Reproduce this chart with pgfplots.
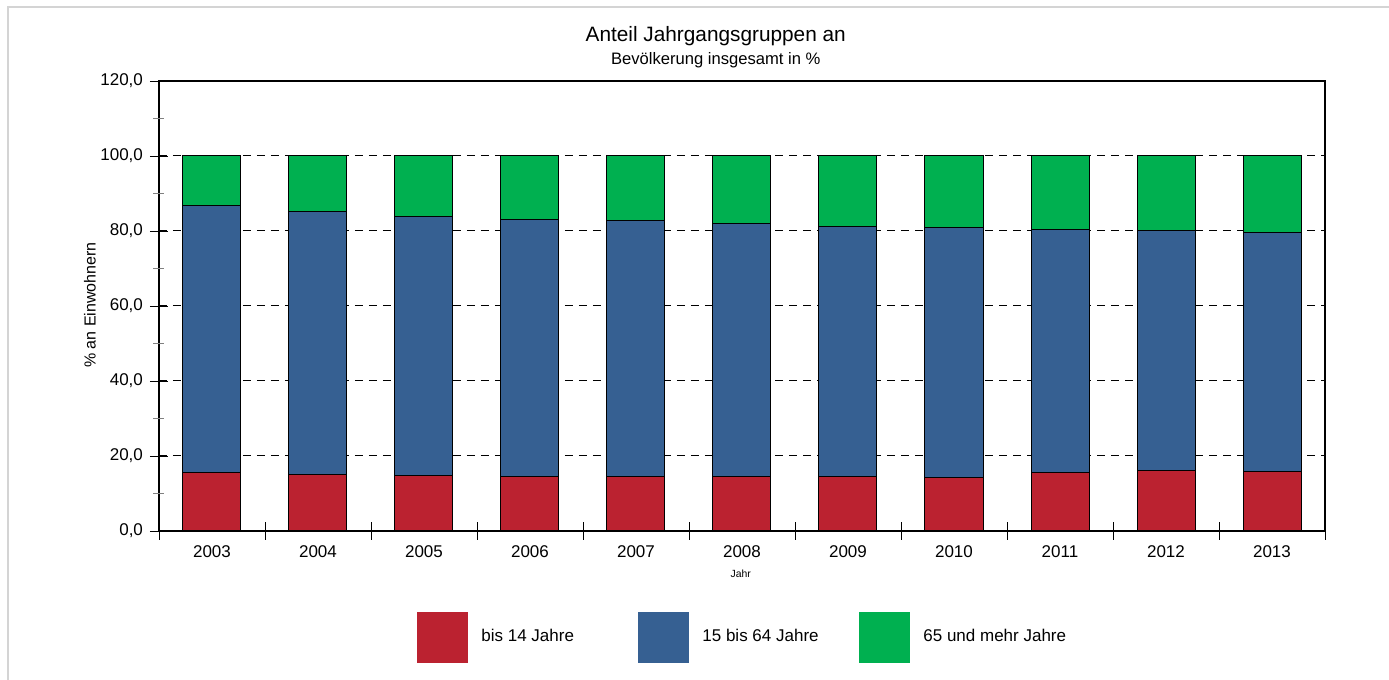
\documentclass[border=0pt]{standalone}
\usepackage{fontspec}
\setmainfont{Liberation Sans}
\usepackage{pgfplots}
\usepackage{pgfplotstable}
\pgfplotsset{compat=1.18}
\definecolor{cred}{HTML}{BB2230}
\definecolor{cblue}{HTML}{366092}
\definecolor{cgreen}{HTML}{00B050}
\definecolor{frame}{HTML}{D4D4D4}
\pgfplotstableread{
x year red blue green
0 2003 15.7 71.0 13.3
1 2004 15.0 70.1 14.9
2 2005 14.7 69.2 16.1
3 2006 14.4 68.7 16.9
4 2007 14.6 68.2 17.2
5 2008 14.4 67.6 18.0
6 2009 14.5 66.7 18.8
7 2010 14.3 66.6 19.1
8 2011 15.7 64.7 19.6
9 2012 16.0 64.2 19.8
10 2013 15.9 63.8 20.3
}\datatable
\begin{document}
\begin{tikzpicture}
\useasboundingbox (-79.5pt,-74.5pt) rectangle (615pt,265.5pt);
\begin{axis}[
  at={(0pt,0pt)}, anchor=south west,
  scale only axis,
  width=583pt, height=225pt,
  ybar stacked,
  bar width=29pt,
  xmin=-0.5, xmax=10.5,
  ymin=0, ymax=120,
  axis line style={line width=0.6pt, black},
  xtick pos=bottom, ytick pos=left,
  tick align=center,
  major tick length=9pt,
  major tick style={line width=0.45pt, black},
  xtick={-0.5,0.5,...,10.5},
  xticklabels={},
  extra x ticks={0,...,10},
  extra x tick labels={2003,2004,2005,2006,2007,2008,2009,2010,2011,2012,2013},
  extra x tick style={major tick length=0pt, tick label style={yshift=-4pt}},
  ytick={0,20,...,120},
  extra y ticks={10,30,...,110},
  extra y tick labels={},
  extra y tick style={major tick length=5.5pt, grid=none, major tick style={line width=0.6pt, gray}},
  ymajorgrids,
  major grid style={black, line width=0.5pt, dash pattern=on 4pt off 3pt},
  yticklabel style={/pgf/number format/.cd, fixed, fixed zerofill, precision=1, use comma},
  /pgf/number format/assume math mode=true,
  tick label style={font=\fontsize{8.5}{10}\selectfont},
  ylabel={\% an Einwohnern},
  ylabel style={at={(axis description cs:-0.0592,0.502)}, anchor=center, font=\fontsize{8}{9}\selectfont},
  xlabel={Jahr},
  xlabel style={at={(axis description cs:0.499,-0.0956)}, anchor=center, font=\fontsize{5.2}{6}\selectfont},
  title={Anteil Jahrgangsgruppen an\\{\fontsize{8.3}{11}\selectfont Bevölkerung insgesamt in \%}},
  title style={at={(axis description cs:0.4775,1.096)}, anchor=north, align=center, inner sep=0pt, font=\fontsize{10.4}{11.5}\selectfont},
  legend columns=3,
  legend style={at={(axis description cs:0.2213,-0.2356)}, anchor=west, draw=none, fill=none, inner sep=0pt,
    nodes={inner sep=0pt, font=\fontsize{8.5}{10}\selectfont}, column sep=0pt},
]
\addplot[fill=cred, draw=black, line width=0.5pt,
  legend image code/.code={\fill[cred] (0pt,-12.5pt) rectangle (25pt,12.5pt); \path (31.5pt,0pt);}]
  table[x=x, y=red] {\datatable};
\addlegendentry{\makebox[78.5pt][l]{bis 14 Jahre}}
\addplot[fill=cblue, draw=black, line width=0.5pt,
  legend image code/.code={\fill[cblue] (0pt,-12.5pt) rectangle (25pt,12.5pt); \path (31.5pt,0pt);}]
  table[x=x, y=blue] {\datatable};
\addlegendentry{\makebox[78.5pt][l]{15 bis 64 Jahre}}
\addplot[fill=cgreen, draw=black, line width=0.5pt,
  legend image code/.code={\fill[cgreen] (0pt,-12.5pt) rectangle (25pt,12.5pt); \path (31.5pt,0pt);}]
  table[x=x, y=green] {\datatable};
\addlegendentry{\makebox[78.5pt][l]{65 und mehr Jahre}}
\end{axis}
\draw[frame, line width=1pt] (-75.5pt,-74.5pt) -- (-75.5pt,262pt) -- (615pt,262pt);
\end{tikzpicture}
\end{document}
